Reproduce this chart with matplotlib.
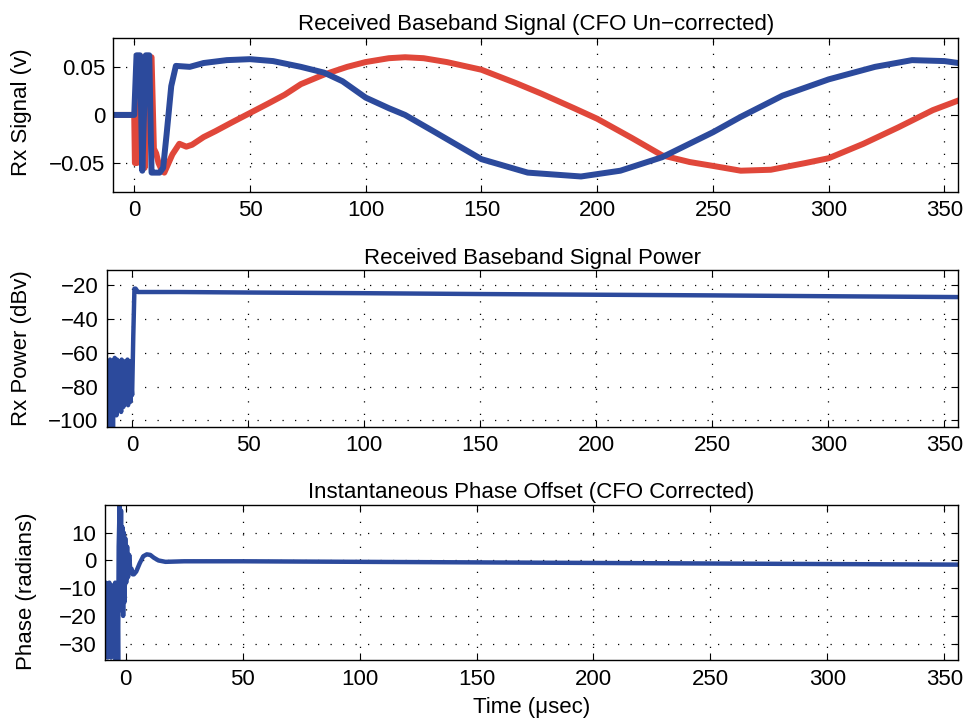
import numpy as np
import matplotlib
matplotlib.use("Agg")
from matplotlib import pyplot as plt

# ---- data ----
# top panel: I (blue) and Q (red) of the received baseband signal, volts
blue_t = [-9, 0, 1, 2.5, 3.5, 5, 6.5, 7.5, 9, 11, 12.5, 14, 16, 18,
          24, 30, 40, 50, 60, 72, 82, 90, 100, 110, 117, 130, 150, 170,
          193, 210, 228, 250, 262, 280, 300, 320, 336, 350, 356]
blue_v = [0, 0, 0.062, 0.062, -0.058, 0.062, 0.062, -0.06, -0.06, -0.06, -0.055, -0.02, 0.03, 0.051,
          0.05, 0.054, 0.057, 0.058, 0.056, 0.05, 0.044, 0.035, 0.018, 0.007, 0.0, -0.018, -0.046, -0.06,
          -0.064, -0.058, -0.044, -0.018, -0.002, 0.02, 0.037, 0.05, 0.057, 0.056, 0.054]

red_t = [-9, 0, 0.3, 1.2, 3.5, 4.5, 6, 7.5, 8.5, 9.5, 10.5, 12, 13,
         16.5, 19.5, 22.5, 25, 30, 35, 42, 50, 58, 65, 72, 82, 92, 100, 110, 117, 125,
         135, 150, 165, 176, 190, 200, 215, 228, 240, 250, 262, 275, 290, 300, 315, 330, 345, 356]
red_v = [0, 0, -0.05, -0.05, 0.06, -0.055, 0.06, 0.06, -0.035, -0.04, -0.05, -0.058, -0.06,
         -0.041, -0.03, -0.033, -0.031, -0.023, -0.017, -0.008, 0.002, 0.012, 0.021, 0.032, 0.042, 0.05, 0.055, 0.059, 0.06, 0.059,
         0.055, 0.047, 0.033, 0.022, 0.007, -0.004, -0.024, -0.042, -0.049, -0.053, -0.058, -0.057, -0.05, -0.045, -0.03, -0.013, 0.005, 0.015]

# middle panel: received power, dBv (noise floor before the packet, then flat)
pwr_noise_t = np.arange(-11, 0, 0.25)
pwr_noise_v = [-70, -98, -66, -104, -68, -92, -64, -96, -67, -88, -65, -104, -70, -94, -63, -90,
               -66, -97, -64, -86, -68, -93, -65, -89, -66, -95, -64, -85, -67, -92, -65, -88,
               -68, -90, -66, -87, -64, -91, -67, -85, -65, -89, -70, -80]
pwr_t = [0, 0.5, 1, 1.5, 2.5, 5, 20, 50, 100, 150, 200, 250, 300, 356]
pwr_v = [-85, -50, -22, -22, -24, -24, -24, -24.3, -24.7, -25.2, -25.6, -26, -26.5, -27]

# bottom panel: instantaneous phase offset, radians
ph_noise_t = np.arange(-9, -3, 0.25)
ph_noise_v = [-10, -33, -8, -30, -12, -35, -9, -28, -8, -32, -14, -35,
              -10, -26, -9, -34, -12, -30, -8, -36, -20, -36, -15, -36]
ph_t = [-3, -2.6, -2.3, -2, -1.7, -1.4, -1.1, -0.8, -0.5, -0.2, 0.2, 0.6, 1, 1.5, 2, 2.5, 3, 3.5,
        4.5, 6, 7.5, 9, 10.5, 12, 14, 17, 25, 50, 100, 150, 200, 250, 300, 356]
ph_v = [5, 20, -10, 18, -18, 12, -20, 10, -15, 8, -8, 5, -6, 2, -4, -3, -5, -5,
        -4, -1, 1.5, 2.2, 2, 1, 0, -0.5, -0.3, -0.3, -0.5, -0.7, -0.9, -1.1, -1.3, -1.5]

x_ticks = [0, 50, 100, 150, 200, 250, 300, 350]

BLUE = "#2c4a9c"
RED = "#e0473a"
FS = 16

plt.rcParams["font.family"] = ["Liberation Sans", "DejaVu Sans"]
plt.rcParams["font.size"] = FS


def matlab_style(ax):
    ax.tick_params(direction="in", top=True, right=True, length=5, width=0.8,
                   labelsize=FS, pad=6)
    ax.grid(True, linestyle=(0, (1, 9)), color="black", linewidth=0.9)
    for s in ax.spines.values():
        s.set_linewidth(1.0)
    ax.set_xticks(x_ticks)


fig = plt.figure(figsize=(9.69, 7.24), dpi=100)

# top
ax1 = fig.add_axes([0.117, 0.735, 0.872, 0.2125])
ax1.plot(red_t, red_v, color=RED, lw=4.3)
ax1.plot(blue_t, blue_v, color=BLUE, lw=4.3)
ax1.set_xlim(-9, 356)
ax1.set_ylim(-0.08, 0.08)
ax1.set_yticks([-0.05, 0, 0.05])
ax1.set_yticklabels(["\u22120.05", "0", "0.05"])
matlab_style(ax1)
ax1.set_title("Received Baseband Signal (CFO Un\u2212corrected)", fontsize=FS, pad=6)
ax1.set_ylabel("Rx Signal (v)", fontsize=FS)
ax1.yaxis.set_label_coords(0.033, 0.845, transform=fig.transFigure)

# middle
ax2 = fig.add_axes([0.110, 0.410, 0.879, 0.217])
ax2.plot(list(pwr_noise_t) + pwr_t, pwr_noise_v + pwr_v, color=BLUE, lw=3.2)
ax2.set_xlim(-11, 356)
ax2.set_ylim(-104, -11)
ax2.set_yticks([-100, -80, -60, -40, -20])
ax2.set_yticklabels(["\u2212100", "\u221280", "\u221260", "\u221240", "\u221220"])
matlab_style(ax2)
ax2.set_title("Received Baseband Signal Power", fontsize=FS, pad=4)
ax2.set_ylabel("Rx Power (dBv)", fontsize=FS)
ax2.yaxis.set_label_coords(0.033, 0.519, transform=fig.transFigure)

# bottom
ax3 = fig.add_axes([0.108, 0.088, 0.881, 0.2145])
ax3.plot(list(ph_noise_t) + ph_t, ph_noise_v + ph_v, color=BLUE, lw=3.2)
ax3.set_xlim(-9, 356)
ax3.set_ylim(-36, 20)
ax3.set_yticks([-30, -20, -10, 0, 10])
ax3.set_yticklabels(["\u221230", "\u221220", "\u221210", "0", "10"])
matlab_style(ax3)
ax3.set_title("Instantaneous Phase Offset (CFO Corrected)", fontsize=FS, pad=5)
ax3.set_ylabel("Phase (radians)", fontsize=FS)
ax3.yaxis.set_label_coords(0.038, 0.183, transform=fig.transFigure)
ax3.set_xlabel("Time (\u03bcsec)", fontsize=FS, labelpad=5)

fig.savefig("out.png", dpi=100)
